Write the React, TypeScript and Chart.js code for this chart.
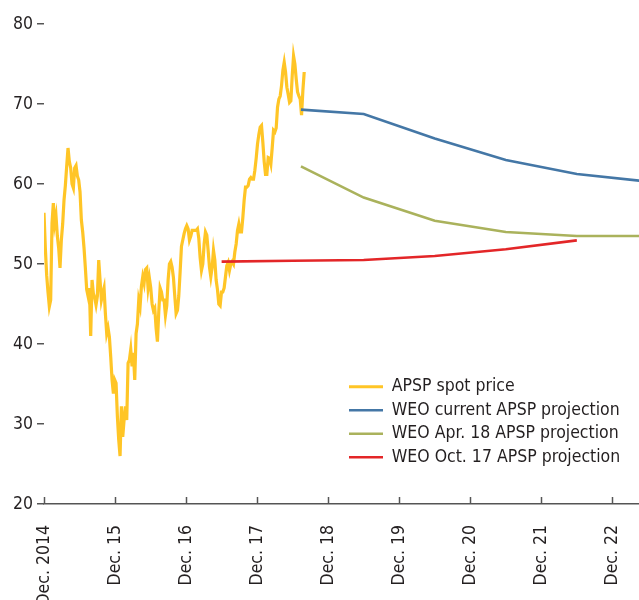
import React, { useEffect, useRef } from "react";
import { Chart, registerables } from "chart.js";

Chart.register(...registerables);

// X axis: months since Dec. 2014
const xTickLabels = ["Dec. 2014", "Dec. 15", "Dec. 16", "Dec. 17", "Dec. 18", "Dec. 19", "Dec. 20", "Dec. 21", "Dec. 22"];
const xMaxMonths = 100.5;

// APSP spot price, roughly weekly observations from Dec. 2014
const spotStartMonth = 0;
const spotStepMonths = 0.2254;
const spotPrice = [
  56.4, 52, 48.6, 46.5, 44.7, 45.5, 55.1, 57.6, 55, 56, 53.5, 52, 49.5, 53, 55, 58, 59.8, 62.2, 64.5, 62.8,
  62, 60, 59.5, 62, 62.3, 61, 60.5, 59, 55.5, 54, 52, 49.5, 46.8, 46, 47, 41, 48, 46.3, 45.8, 44.9,
  46, 50.5, 48, 45.5, 46.3, 47, 43.8, 41.3, 42, 40.9, 38.4, 35.5, 33.8, 35.5, 35.1, 30.9, 28, 26, 32.2, 28.4,
  30.5, 32.2, 30.5, 37.6, 38, 39.3, 37.2, 38.9, 35.5, 41.3, 42.5, 45.5, 44.7, 47.2, 48.4, 47.6, 49.3, 49.5, 47, 48.2,
  47, 45, 44.2, 44.5, 42, 40.3, 44, 47, 46.5, 45.5, 45.5, 43.6, 44.8, 48, 50, 50.3, 49.6, 48.3, 46, 43.8,
  44.2, 46, 49, 52.2, 53, 53.8, 54.4, 54.8, 54.4, 53, 53.5, 54.2, 54.2, 54.2, 54.2, 54.4, 53.2, 50.8, 49.2, 50,
  52.5, 54, 53.6, 51.7, 49.6, 48.4, 49.6, 51.7, 50.5, 48, 46.8, 45, 44.8, 46.5, 46.5, 47, 48.4, 49.8, 50.2, 49.2,
  50, 50.3, 50, 51.5, 52.5, 54.2, 55, 54, 54, 55.8, 58, 59.6, 59.6, 59.8, 60.6, 60.8, 60.6, 60.6, 61.7, 63.2,
  65, 66.2, 67.1, 67.3, 65.2, 62.8, 61.2, 61.2, 63.3, 63.2, 62.5, 64.5, 66.7, 66.5, 67, 69.6, 70.6, 71, 72.3, 74.2,
  75.2, 74, 72.1, 71.2, 70.2, 70.4, 73.5, 76, 75, 73.1, 71.5, 71, 70.6, 68.6, 71.7, 74,
];

// WEO projections (months since Dec. 2014, values)
const weoCurrentMonths = [43.4, 54, 66, 78, 90, 102];
const weoCurrentValues = [69.3, 68.75, 65.7, 63.0, 61.25, 60.3];
const weoAprMonths = [43.4, 54, 66, 78, 90, 102];
const weoAprValues = [62.2, 58.3, 55.4, 54.0, 53.5, 53.5];
const weoOctMonths = [30, 42, 54, 66, 78, 90];
const weoOctValues = [50.3, 50.4, 50.5, 51.0, 51.85, 52.95];

const seriesNames = ["APSP spot price", "WEO current APSP projection", "WEO Apr. 18 APSP projection", "WEO Oct. 17 APSP projection"];
const seriesColors = ["#FFC526", "#4477A6", "#AAB25C", "#E32628"];

const yTicks = [20, 30, 40, 50, 60, 70, 80];

const FONT = "'Liberation Sans Narrow', 'Arial Narrow', 'DejaVu Sans Condensed', sans-serif";
const TEXT_COLOR = "#231F20";
const AXIS_COLOR = "#555555";

const zip = (xs: number[], ys: number[]) => ys.map((y, i) => ({ x: xs[i], y }));

const xTickMarks = {
  id: "xTickMarks",
  afterDraw(chart: any) {
    const xs = chart.scales.x;
    const ctx = chart.ctx;
    const bottom = chart.chartArea.bottom;
    ctx.save();
    ctx.strokeStyle = AXIS_COLOR;
    ctx.lineWidth = 1.5;
    xs.ticks.forEach((t: any) => {
      const px = Math.round(xs.getPixelForValue(t.value)) + 0.5;
      ctx.beginPath();
      ctx.moveTo(px, bottom);
      ctx.lineTo(px, bottom - 7);
      ctx.stroke();
    });
    ctx.restore();
  },
};

const legendPlace = {
  id: "legendPlace",
  beforeDraw(chart: any) {
    const lg = chart.legend;
    if (!lg) return;
    const w = lg.width;
    const h = lg.height;
    lg.left = 343;
    lg.top = 372;
    lg.right = lg.left + w;
    lg.bottom = lg.top + h;
  },
};

export default function App() {
  const ref = useRef<HTMLCanvasElement | null>(null);

  useEffect(() => {
    if (!ref.current) return;
    const spotData = spotPrice.map((v, i) => ({ x: spotStartMonth + i * spotStepMonths, y: v }));
    const chart = new Chart(ref.current, {
      type: "line",
      data: {
        datasets: [
          { label: seriesNames[0], data: spotData, borderColor: seriesColors[0], backgroundColor: seriesColors[0], borderWidth: 3.2, pointRadius: 0, tension: 0, order: 4 },
          { label: seriesNames[1], data: zip(weoCurrentMonths, weoCurrentValues), borderColor: seriesColors[1], backgroundColor: seriesColors[1], borderWidth: 2.6, pointRadius: 0, tension: 0, order: 3 },
          { label: seriesNames[2], data: zip(weoAprMonths, weoAprValues), borderColor: seriesColors[2], backgroundColor: seriesColors[2], borderWidth: 2.6, pointRadius: 0, tension: 0, order: 2 },
          { label: seriesNames[3], data: zip(weoOctMonths, weoOctValues), borderColor: seriesColors[3], backgroundColor: seriesColors[3], borderWidth: 2.6, pointRadius: 0, tension: 0, order: 1 },
        ],
      },
      options: {
        animation: false,
        responsive: false,
        layout: { padding: { top: 24, right: 0, bottom: 0, left: 0 } },
        plugins: {
          tooltip: { enabled: false },
          legend: {
            position: "chartArea" as any,
            align: "start",
            labels: {
              usePointStyle: true,
              pointStyle: "line",
              pointStyleWidth: 34,
              boxHeight: 18,
              padding: 6,
              color: TEXT_COLOR,
              font: { family: FONT, size: 17.5 },
              sort: (a: any, b: any) => a.datasetIndex - b.datasetIndex,
            },
          },
        },
        scales: {
          x: {
            type: "linear",
            min: 0,
            max: xMaxMonths,
            afterFit: (s: any) => { s.height = 96; s.paddingLeft = 0; s.paddingRight = 0; },
            afterBuildTicks: (s: any) => { s.ticks = xTickLabels.map((_, i) => ({ value: i * 12 })); },
            ticks: {
              autoSkip: false,
              minRotation: 90,
              maxRotation: 90,
              padding: 13,
              color: TEXT_COLOR,
              font: { family: FONT, size: 17.5 },
              callback: (v: any) => xTickLabels[Math.round(Number(v) / 12)] ?? "",
            },
            grid: { display: false },
            border: { display: true, color: AXIS_COLOR, width: 1.5 },
          },
          y: {
            type: "linear",
            min: 20,
            max: 80,
            afterFit: (s: any) => { s.width = 44; },
            afterBuildTicks: (s: any) => { s.ticks = yTicks.map((v) => ({ value: v })); },
            ticks: {
              padding: 4,
              color: TEXT_COLOR,
              font: { family: FONT, size: 17.5 },
            },
            grid: { drawOnChartArea: false, drawTicks: true, tickLength: 7, color: AXIS_COLOR, lineWidth: 1.5 },
            border: { display: false },
          },
        },
      },
      plugins: [xTickMarks, legendPlace],
    });
    return () => chart.destroy();
  }, []);

  return (
    <div style={{ position: "absolute", left: 0, top: 0, width: 639, height: 600, background: "#fff" }}>
      <canvas ref={ref} width={639} height={600} />
    </div>
  );
}
